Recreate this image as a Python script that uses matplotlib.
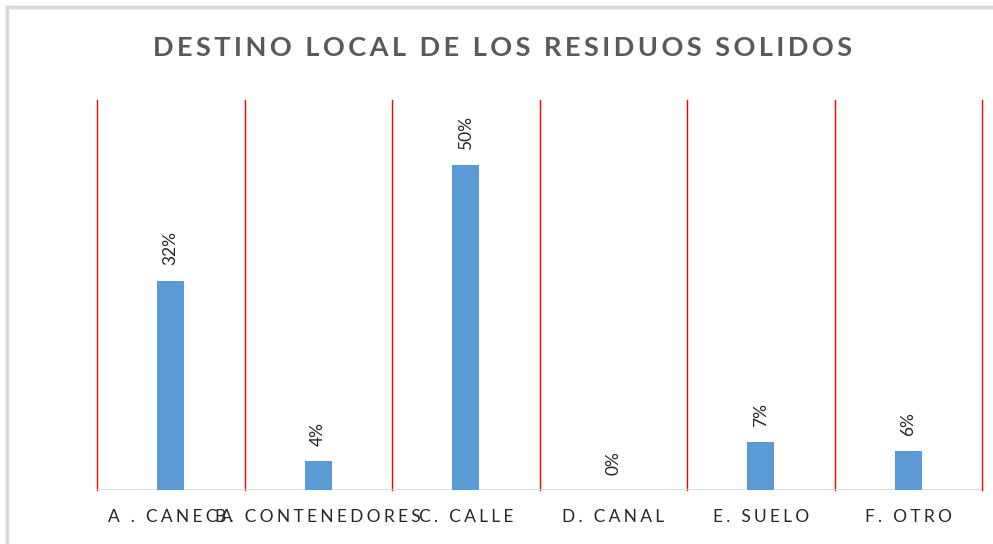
import matplotlib
matplotlib.use("Agg")
import matplotlib.pyplot as plt
from matplotlib.lines import Line2D
import numpy as np

plt.rcParams['font.family'] = ['Lato', 'DejaVu Sans']

categorias = ["A . CANECA", "B. CONTENEDORES", "C. CALLE", "D. CANAL", "E. SUELO", "F. OTRO"]
valores = [0.322, 0.044, 0.50, 0.0, 0.074, 0.060]
etiquetas = ["32%", "4%", "50%", "0%", "7%", "6%"]
titulo = "DESTINO LOCAL DE LOS RESIDUOS SOLIDOS"


def espaciado(txt, sep="\u200a"):
    # simula el espaciado de letras de Excel
    return sep.join(txt)


fig = plt.figure(figsize=(9.93, 5.44), dpi=100)
ax = fig.add_axes([97 / 993, 54 / 544, 885 / 993, 390 / 544])

x = np.arange(len(categorias))
ax.bar(x, valores, width=0.185, color='#5B9BD5', zorder=3)

for xi, v, et in zip(x, valores, etiquetas):
    ax.annotate(et, (xi, v), xytext=(0, 11), textcoords='offset points',
                rotation=90, ha='center', va='bottom', fontsize=12.5, color='#262626')

# lineas rojas entre categorias
for b in np.arange(-0.5, len(categorias), 1.0):
    ax.axvline(b, color='#FF0000', lw=1.0, zorder=1, clip_on=False)

ax.set_xlim(-0.5, len(categorias) - 0.5)
ax.set_ylim(0, 0.6)
ax.axhline(0, color='#D9D9D9', lw=1.2, zorder=2)
for s in ax.spines.values():
    s.set_visible(False)
ax.set_yticks([])
ax.set_xticks(x)
ax.set_xticklabels([espaciado(c, "\u2009\u200a") for c in categorias], fontsize=12.5, color='#262626')
ax.tick_params(axis='x', length=0, pad=14)

fig.text(502 / 993, 1 - 48 / 544, espaciado(titulo, "\u200a\u200a"), ha='center', va='center',
         fontsize=19.5, fontweight='bold', color='#595959')

# marco del grafico (solo borde izquierdo y superior visibles)
fig.add_artist(Line2D([7 / 993, 7 / 993], [0, 1 - 7 / 544], transform=fig.transFigure,
                      color='#D9D9D9', lw=2.5))
fig.add_artist(Line2D([7 / 993, 1], [1 - 7 / 544, 1 - 7 / 544], transform=fig.transFigure,
                      color='#D9D9D9', lw=2.5))

fig.savefig('out.png', dpi=100)
